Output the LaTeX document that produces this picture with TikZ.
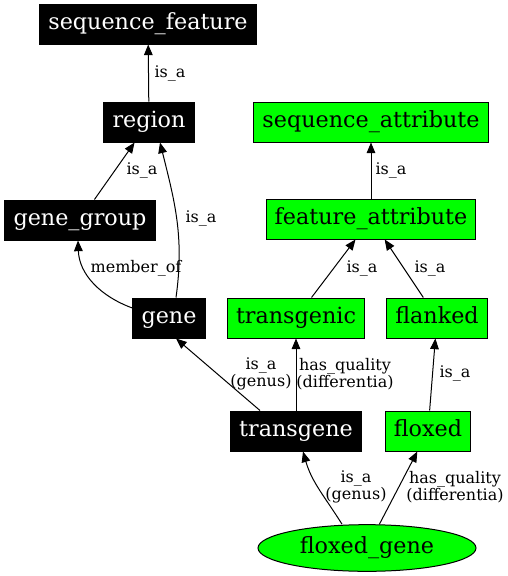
\documentclass[tikz,border=0pt]{standalone}
\usepackage{fontspec}
\setmainfont{DejaVu Serif}
\usetikzlibrary{arrows.meta,shapes.geometric}
\definecolor{termgreen}{HTML}{00FF00}
\begin{document}
\begin{tikzpicture}[x=0.75pt,y=-0.75pt,
    term/.style={draw=black,line width=0.75pt,fill=black,text=white,font=\fontsize{16.7}{18}\selectfont,
      minimum height=30pt,inner xsep=6.5pt,inner ysep=0pt,text height=12pt,text depth=3.5pt},
    attr/.style={term,fill=termgreen,text=black},
    rel/.style={line width=0.75pt,-{Triangle[length=8pt,width=6.5pt]}},
    lbl/.style={font=\fontsize{12}{12.5}\selectfont,align=center,inner sep=0pt}]
    \useasboundingbox (0,0) rectangle (508,576);
    % terms
    \node[term] (sequence_feature) at (148,24) {sequence\_feature};
    \node[term] (region) at (149,122) {region};
    \node[term] (gene_group) at (80,220) {gene\_group};
    \node[term] (gene) at (169,318) {gene};
    \node[term] (transgene) at (296,431) {transgene};
    \node[attr] (sequence_attribute) at (371,122) {sequence\_attribute};
    \node[attr] (feature_attribute) at (371,219) {feature\_attribute};
    \node[attr] (transgenic) at (296,318) {transgenic};
    \node[attr] (flanked) at (437,318) {flanked};
    \node[attr] (floxed) at (428,431) {floxed};
    \node[attr,ellipse,minimum width=163.5pt,minimum height=35pt,inner sep=0pt]
      (floxed_gene) at (367,548) {floxed\_gene};
    % relations
    \draw[rel] (region) -- (sequence_feature) node[lbl] at (170,73) {is\_a};
    \draw[rel] (gene_group) -- (region) node[lbl] at (142,170) {is\_a};
    \draw[rel] ([xshift=5.25pt]gene.north) to[out=82,in=-76] ([xshift=8.25pt]region.south)
      node[lbl] at (201,218) {is\_a};
    \draw[rel] ([yshift=7.5pt]gene.west) to[out=160,in=-88] ([xshift=-1.5pt]gene_group.south)
      node[lbl] at (136,268) {member\_of};
    \draw[rel] ([xshift=-27pt]transgene.north) -- ([xshift=5.25pt]gene.south)
      node[lbl] at (261,374) {is\_a\\(genus)};
    \draw[rel] (transgene) -- (transgenic)
      node[lbl] at (345,374) {has\_quality\\(differentia)};
    \draw[rel] (transgenic) -- (feature_attribute) node[lbl] at (362,268) {is\_a};
    \draw[rel] (flanked) -- (feature_attribute) node[lbl] at (430,268) {is\_a};
    \draw[rel] (feature_attribute) -- (sequence_attribute) node[lbl] at (391,170) {is\_a};
    \draw[rel] (floxed) -- (flanked) node[lbl] at (455,373) {is\_a};
    \draw[rel] ([xshift=-18.75pt]floxed_gene.north) to[out=122,in=-74] ([xshift=5.25pt]transgene.south)
      node[lbl] at (356,487) {is\_a\\(genus)};
    \draw[rel] (floxed_gene) -- (floxed)
      node[lbl] at (455,487) {has\_quality\\(differentia)};
\end{tikzpicture}
\end{document}
